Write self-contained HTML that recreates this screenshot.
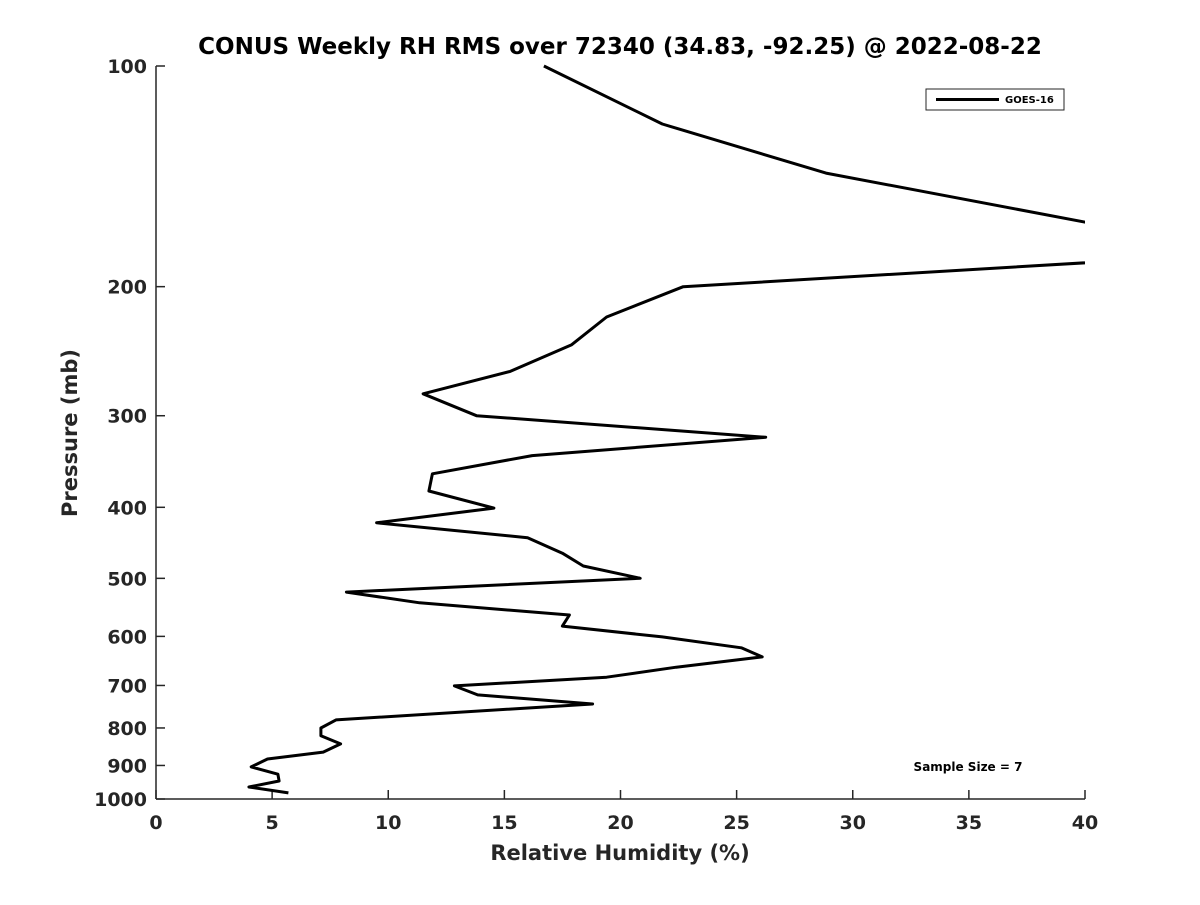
<!DOCTYPE html>
<html><head><meta charset="utf-8"><style>
body{margin:0;background:#fff;}
svg text{font-family:"DejaVu Sans","Liberation Sans",sans-serif;font-weight:bold;fill:#262626;}
</style></head><body>
<svg id="chart" width="1200" height="900" xmlns="http://www.w3.org/2000/svg">
<rect width="1200" height="900" fill="#fff"/>
<text x="620" y="54" text-anchor="middle" font-size="23" style="fill:#000">CONUS Weekly RH RMS over 72340 (34.83, -92.25) @ 2022-08-22</text>
<g id="axes"></g>
<defs><clipPath id="clip"><rect x="150" y="60" width="935" height="745"/></clipPath></defs>
<path id="series" fill="none" stroke="#000" stroke-width="3" stroke-linejoin="round" clip-path="url(#clip)"/>
<g>
<rect x="926" y="89" width="138" height="21" fill="#fff" stroke="#262626" stroke-width="1"/>
<line x1="936" y1="99.5" x2="999" y2="99.5" stroke="#000" stroke-width="3"/>
<text x="1005" y="103" font-size="10" style="fill:#000">GOES-16</text>
</g>
<text x="968" y="771" text-anchor="middle" font-size="12" style="fill:#000">Sample Size = 7</text>
<text x="620" y="860" text-anchor="middle" font-size="21">Relative Humidity (%)</text>
<text transform="translate(77,433) rotate(-90)" text-anchor="middle" font-size="21">Pressure (mb)</text>
</svg>
<script>
const xTicks=[0,5,10,15,20,25,30,35,40];
const yTicks=[100,200,300,400,500,600,700,800,900,1000];
const rh=[16.7,21.8,28.85,50,50,22.7,19.4,17.9,15.25,11.5,13.8,26.25,16.2,11.9,11.75,14.55,9.5,16.0,17.5,18.4,20.85,8.2,11.35,17.8,17.5,21.8,25.2,26.1,22.4,19.4,12.85,13.85,18.8,7.75,7.1,7.1,7.95,7.2,4.8,4.1,5.25,5.3,4.0,5.7];
const pres=[100,120,140,187.5,177.7,200,220,240,261,280,300,321,340,360,380,401,420,440,462,481,500,522,540,561,581,601,622,640,661,682,701,721,742,780,800,820,841,863,882,904,925,945,963,981];
const X0=156,X1=1085,Y0=66,Y1=799;
const xs=v=>X0+(v-0)/(40-0)*(X1-X0);
const ys=p=>Y0+(Math.log10(p)-2)/(3-2)*(Y1-Y0);
const NS="http://www.w3.org/2000/svg";
const ax=document.getElementById('axes');
function mk(t,a){const e=document.createElementNS(NS,t);for(const k in a)e.setAttribute(k,a[k]);ax.appendChild(e);return e;}
const xl=mk('line',{x1:X0,y1:Y1,x2:X1,y2:Y1,stroke:'#262626','stroke-width':1.5});


const yl=mk('line',{x1:X0,y1:Y0,x2:X0,y2:Y1,stroke:'#262626','stroke-width':1.5});


xTicks.forEach(v=>{
 const x=xs(v);
 mk('line',{x1:x,y1:Y1,x2:x,y2:Y1-9,stroke:'#262626','stroke-width':1.5});
 const t=mk('text',{x:x,y:829,'text-anchor':'middle','font-size':19});
 t.textContent=v;
 
 
});
yTicks.forEach(v=>{
 const y=ys(v);
 mk('line',{x1:X0,y1:y,x2:X0+9,y2:y,stroke:'#262626','stroke-width':1.5});
 const t=mk('text',{x:147,y:y+7,'text-anchor':'end','font-size':19});
 t.textContent=v;
 
 
});
document.getElementById('series').setAttribute('d',rh.map((v,i)=>(i?'L':'M')+xs(v).toFixed(1)+','+ys(pres[i]).toFixed(1)).join(''));
</script>
</body></html>
